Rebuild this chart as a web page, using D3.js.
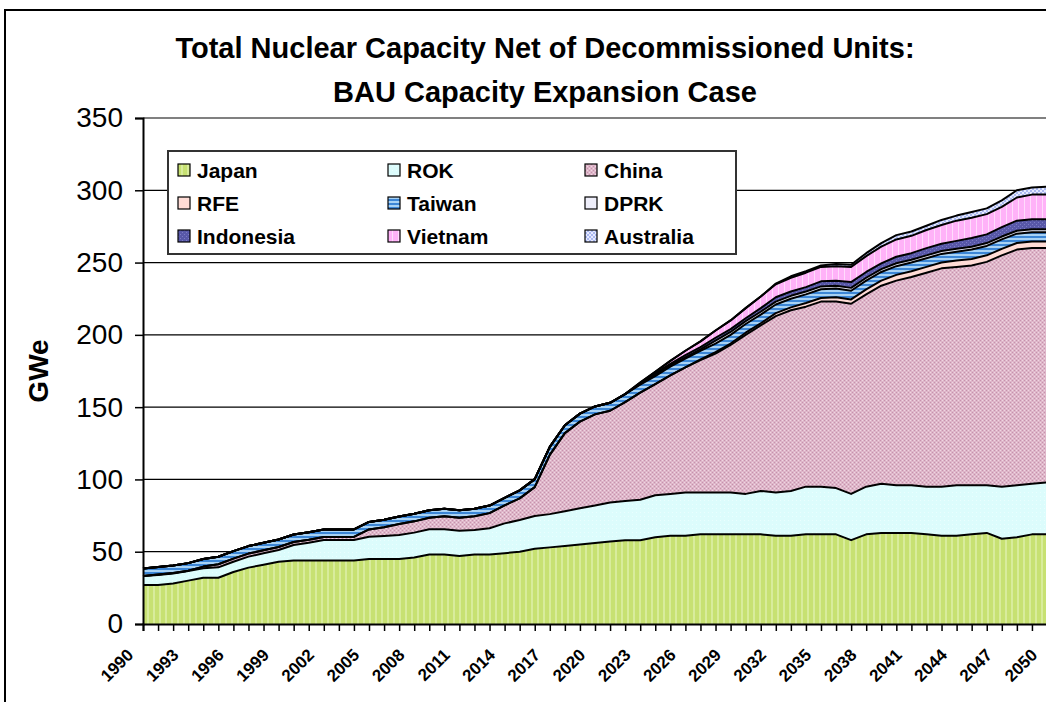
<!DOCTYPE html>
<html>
<head>
<meta charset="utf-8">
<script src="https://cdnjs.cloudflare.com/ajax/libs/d3/7.8.5/d3.min.js"></script>
<style>
body { margin: 0; background: #fff; }
text { font-family: Arial, "Liberation Sans", sans-serif; }
</style>
</head>
<body>
<div id="chart"></div>
<script>
// categories
var years = [1990,1991,1992,1993,1994,1995,1996,1997,1998,1999,2000,2001,2002,2003,2004,2005,2006,2007,2008,2009,
    2010,2011,2012,2013,2014,2015,2016,2017,2018,2019,2020,2021,2022,2023,2024,2025,2026,2027,2028,2029,
    2030,2031,2032,2033,2034,2035,2036,2037,2038,2039,2040,2041,2042,2043,2044,2045,2046,2047,2048,2049,2050];

// GWe by country (stack order bottom -> top)
var japan = [27,27,28,30,32,32,36,39,41,43,44,44,44,44,44,45,45,45,46,48,48,47,48,48,49,50,52,
    53,54,55,56,57,58,58,60,61,61,62,62,62,62,62,61,61,62,62,62,58,62,63,63,63,62,61,61,62,63,59,60,62,62];
var rok = [6.2,6.9,7,6.6,6.5,7.2,7.1,7.6,7.9,8.2,10.6,12.2,14.1,14.1,14.1,15.4,15.9,16.6,17.2,17.5,17.5,17.5,17,18.2,20.6,21.9,22.7,
    23,24,25,26,27,27,28,29,29,30,29,29,29,28,30,30,31,33,33,32,32,33,34,33,33,33,34,35,34,33,36,36,35,36];
var china = [0,0.3,0.3,0.3,1.2,2.1,2.1,2.1,2.1,2.1,2.1,2.1,2.1,2.1,2.1,5,6,7.5,7.8,8,9,9,9.5,10.5,12.5,15,20,
    41,54,60,63,63.5,68.5,74,77,82,86.5,91.5,96,102,110,114.5,122,125,124.5,128,129,131.5,133,137,141.5,144,148,151,151,152,154.5,160,163,163,162];
var rfe = [0,0,0,0,0,0,0,0,0,0,0,0,0,0,0,0,0,0,0,0,0,0,0,0,0,0,0,0,0,0,0,0,0,0,0,0,0,
    0.5,1,1,1.5,1.5,2,2,2.5,2.5,3,3,3.5,3.5,4,4,4,4,4.5,4.5,4.5,4.5,4.5,4.5,4.5];
var taiwan = [5.2,5.2,5.2,5.2,5.2,5.2,5.2,5.2,5.2,5.2,5.2,5.2,5.2,5.2,5.2,5.2,5.2,5.2,5.2,5.2,5.2,5.2,5.2,5.2,5.2,
    5.5,5.5,5.5,5.5,5.5,5.5,5.5,5.5,5.5,5.5,6,6,6,6,6,6,6,6,6,6,6,6,6,6,6,6,6,6,6,6,6.5,6.5,6.5,6.5,6.5,6.5];
var dprk = [0,0,0,0,0,0,0,0,0,0,0,0,0,0,0,0,0,0,0,0,0,0,0,0,0,0,0,0,0,0,0,0,0,
    0.5,1,1,1,1,2,2,2,2,2,2,2,2,2,2,2,2,2,2,2,2,2,2,2,2,2,2,2,2,2];
var indonesia = [0,0,0,0,0,0,0,0,0,0,0,0,0,0,0,0,0,0,0,0,0,0,0,0,0,0,0,0,0,0,0,0,0,
    0.5,1,1,1.5,1.5,2,2,2,2.5,3,3,3,3.5,3.5,4,4,4,4.5,4.5,5,5,5.5,6,6,6.5,7,7,7];
var vietnam = [0,0,0,0,0,0,0,0,0,0,0,0,0,0,0,0,0,0,0,0,0,0,0,0,0,0,0,0,0,0,0,0,0,
    0.5,1,2,3,4,5,6,7,8,9,9.5,10,10,10,10.5,11,11.5,12,12,12.5,13,14,14,14,14,16,17,17];
var australia = [0,0,0,0,0,0,0,0,0,0,0,0,0,0,0,0,0,0,0,0,0,0,0,0,0,0,0,0,0,0,0,0,0,0,0,0,0,0,0,0,0,0,
    0.5,1,1,1,1.5,1.5,2,2.5,3,3,3,3.5,3.5,4,4,4.5,5,5,5.5];

var seriesNames = ['Japan', 'ROK', 'China', 'RFE', 'Taiwan', 'DPRK', 'Indonesia', 'Vietnam', 'Australia'];
var seriesValues = [japan, rok, china, rfe, taiwan, dprk, indonesia, vietnam, australia];
var yTicks = [0, 50, 100, 150, 200, 250, 300, 350];
var titleLines = ['Total Nuclear Capacity Net of Decommissioned Units:', 'BAU Capacity Expansion Case'];

function NuclearChart()
{
    var self = this;
    self.init();
}

NuclearChart.prototype.init = function()
{
    var self = this;
    self.plot = {left: 143, right: 1047, top: 118, bottom: 624};

    self.svg = d3.select('#chart').append('svg')
        .attr('width', 1046)
        .attr('height', 702);

    // fill patterns, roughly like the Excel ones
    var defs = self.svg.append('defs');
    function pat(id, w, h, bg, marks) {
        var p = defs.append('pattern').attr('id', id)
            .attr('patternUnits', 'userSpaceOnUse').attr('width', w).attr('height', h);
        p.append('rect').attr('width', w).attr('height', h).attr('fill', bg);
        marks.forEach(function(m) {
            p.append('rect').attr('x', m[0]).attr('y', m[1]).attr('width', m[2]).attr('height', m[3]).attr('fill', m[4]);
        });
    }
    pat('p-japan', 6, 6, '#c7e172', [[3, 0, 2, 6, '#d8ec9c']]);
    pat('p-rok', 4, 4, '#dcfcfc', [[0, 0, 1, 1, '#eafefe']]);
    pat('p-china', 4, 4, '#deb6c9', [[0, 0, 1, 1, '#c692ac'], [2, 2, 1, 1, '#c692ac'], [2, 0, 1, 1, '#f0d6e2'], [0, 2, 1, 1, '#f0d6e2']]);
    pat('p-rfe', 4, 4, '#ffdcd6', []);
    pat('p-taiwan', 4, 4, '#a8d2f4', [[0, 0, 4, 2, '#3c86d6']]);
    pat('p-dprk', 4, 4, '#eeeefa', []);
    pat('p-indonesia', 4, 4, '#5858a8', [[0, 0, 1, 1, '#7c7cc4'], [2, 2, 1, 1, '#7c7cc4']]);
    pat('p-vietnam', 6, 6, '#ffb2f8', [[4, 0, 1, 6, '#ffdcfc']]);
    pat('p-australia', 4, 4, '#e6eaff', [[0, 0, 2, 2, '#aab8f0'], [2, 2, 2, 2, '#aab8f0']]);
};

NuclearChart.prototype.update = function()
{
    var self = this;
    var p = self.plot;

    var rows = years.map(function(yr, i) {
        var r = {year: yr};
        seriesNames.forEach(function(n, k) { r[n] = seriesValues[k][i]; });
        return r;
    });

    var stack = d3.stack().keys(seriesNames);
    var layers = stack(rows);

    var x = d3.scalePoint().domain(years).range([p.left, p.right]);
    var y = d3.scaleLinear().domain([0, 350]).range([p.bottom, p.top]);

    // outer chart frame (cut off on the right and bottom)
    self.svg.append('rect')
        .attr('x', 5).attr('y', 10).attr('width', 1100).attr('height', 800)
        .attr('fill', '#fff').attr('stroke', '#000').attr('stroke-width', 2);

    // gridlines
    self.svg.append('g').selectAll('line')
        .data(yTicks.slice(1))
        .enter().append('line')
        .attr('x1', p.left).attr('x2', 1046)
        .attr('y1', function(d) { return y(d); })
        .attr('y2', function(d) { return y(d); })
        .attr('stroke', function(d) { return d === 350 ? '#808080' : '#000'; })
        .attr('stroke-width', function(d) { return d === 350 ? 2 : 1.3; });

    var area = d3.area()
        .x(function(d) { return x(d.data.year); })
        .y0(function(d) { return y(d[0]); })
        .y1(function(d) { return y(d[1]); });

    var topLine = d3.line()
        .x(function(d) { return x(d.data.year); })
        .y(function(d) { return y(d[1]); });

    self.svg.append('g').selectAll('path')
        .data(layers)
        .enter().append('path')
        .attr('d', area)
        .attr('fill', function(d) { return 'url(#p-' + d.key.toLowerCase() + ')'; });

    self.svg.append('g').selectAll('path')
        .data(layers)
        .enter().append('path')
        .attr('d', topLine)
        .attr('fill', 'none')
        .attr('stroke', '#000')
        .attr('stroke-width', 2)
        .attr('stroke-linejoin', 'round');

    // x axis
    var xAxis = d3.axisBottom(x)
        .tickSize(7)
        .tickFormat(function(d, i) { return i % 3 === 0 ? d : ''; });

    var gx = self.svg.append('g')
        .attr('transform', 'translate(0,' + p.bottom + ')')
        .call(xAxis);
    gx.select('.domain').attr('stroke', '#000').attr('stroke-width', 2);
    gx.selectAll('.tick line').attr('stroke', '#000').attr('stroke-width', 1.5);
    gx.selectAll('.tick text')
        .attr('y', 0).attr('dy', 0)
        .attr('text-anchor', 'end')
        .attr('transform', 'translate(-9,32) rotate(-45)')
        .style('font-size', '17px')
        .style('font-weight', 'bold')
        .attr('fill', '#000');

    // y axis
    var yAxis = d3.axisLeft(y).tickValues(yTicks).tickSize(8).tickPadding(12);
    var gy = self.svg.append('g')
        .attr('transform', 'translate(' + p.left + ',0)')
        .call(yAxis);
    gy.select('.domain').attr('stroke', '#000').attr('stroke-width', 2);
    gy.selectAll('.tick line').attr('stroke', '#000').attr('stroke-width', 1.5);
    gy.selectAll('.tick text')
        .style('font-size', '28px')
        .attr('fill', '#000');

    self.svg.append('text')
        .attr('transform', 'translate(48,371) rotate(-90)')
        .attr('text-anchor', 'middle')
        .style('font-size', '28px')
        .style('font-weight', 'bold')
        .text('GWe');

    // title
    self.svg.append('g').selectAll('text')
        .data(titleLines)
        .enter().append('text')
        .attr('x', 545)
        .attr('y', function(d, i) { return 58 + i * 44; })
        .attr('text-anchor', 'middle')
        .style('font-size', '29px')
        .style('font-weight', 'bold')
        .text(function(d) { return d; });

    // legend
    var legend = self.svg.append('g');
    legend.append('rect')
        .attr('x', 168).attr('y', 151).attr('width', 568).attr('height', 103)
        .attr('fill', '#fff').attr('stroke', '#333').attr('stroke-width', 2);

    var colX = [178, 388, 585];
    var rowY = [170, 203, 236];
    var items = legend.selectAll('g.item')
        .data(seriesNames)
        .enter().append('g')
        .attr('class', 'item')
        .attr('transform', function(d, i) { return 'translate(' + colX[i % 3] + ',' + rowY[Math.floor(i / 3)] + ')'; });
    items.append('rect')
        .attr('x', 0).attr('y', -6).attr('width', 12).attr('height', 12)
        .attr('fill', function(d) { return 'url(#p-' + d.toLowerCase() + ')'; })
        .attr('stroke', '#000').attr('stroke-width', 1.2);
    items.append('text')
        .attr('x', 19).attr('y', 7.5)
        .style('font-size', '21px')
        .style('font-weight', 'bold')
        .text(function(d) { return d; });
};

var chart = new NuclearChart();
chart.update();
</script>
</body>
</html>
